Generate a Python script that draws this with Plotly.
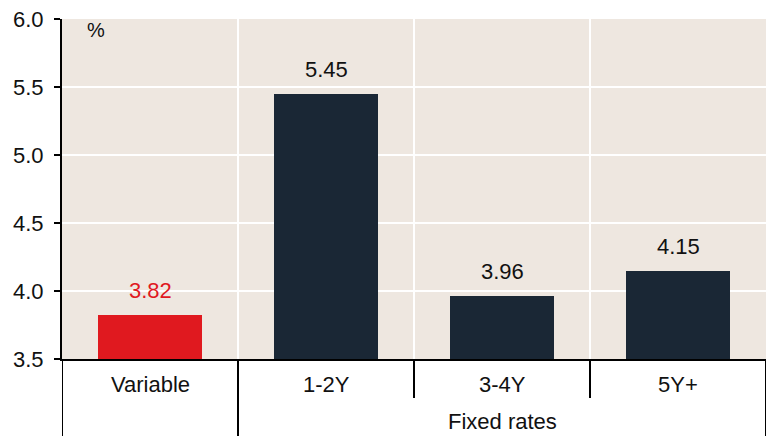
import plotly.graph_objects as go

categories = ["Variable", "1-2Y", "3-4Y", "5Y+"]
values = [3.82, 5.45, 3.96, 4.15]
bar_colors = ["#E0191F", "#1A2735", "#1A2735", "#1A2735"]
label_colors = ["#E0191F", "#111111", "#111111", "#111111"]
group_label = "Fixed rates"
y_ticks = [3.5, 4.0, 4.5, 5.0, 5.5, 6.0]
unit_label = "%"

FONT = "Liberation Sans, Arial, sans-serif"
FS = 22
PLOT_H = 436 - 19 - 77

xpos = [i + 0.5 for i in range(len(categories))]

fig = go.Figure()
fig.add_trace(go.Bar(
    x=xpos, y=values, width=0.59,
    marker=dict(color=bar_colors, line=dict(width=0)),
    hoverinfo="skip", showlegend=False,
))

annotations = []
for xp, v, c in zip(xpos, values, label_colors):
    annotations.append(dict(x=xp, y=v, xref="x", yref="y", text=f"{v:.2f}",
                            showarrow=False, yanchor="bottom", yshift=10,
                            font=dict(family=FONT, size=FS, color=c)))
for xp, cat in zip(xpos, categories):
    annotations.append(dict(x=xp, y=-(384 - 359) / PLOT_H, xref="x", yref="paper",
                            text=cat, showarrow=False, yanchor="middle",
                            font=dict(family=FONT, size=FS, color="#111111")))
annotations.append(dict(x=(xpos[1] + xpos[-1]) / 2, y=-(421 - 359) / PLOT_H,
                        xref="x", yref="paper", text=group_label, showarrow=False,
                        yanchor="middle", font=dict(family=FONT, size=FS, color="#111111")))
annotations.append(dict(x=0.195, y=0.968, xref="x", yref="paper", text=unit_label,
                        showarrow=False, yanchor="middle",
                        font=dict(family=FONT, size=FS - 2, color="#111111")))

shapes = []
full = -77 / PLOT_H - 0.05
short = -39 / PLOT_H
for xb, yb in [(0, full), (1, full), (2, short), (3, short), (4, full)]:
    shapes.append(dict(type="line", xref="x", yref="paper", x0=xb, x1=xb,
                       y0=0, y1=yb, line=dict(color="black", width=2)))

fig.update_layout(
    width=767, height=436,
    margin=dict(l=62, r=1, t=19, b=77),
    paper_bgcolor="white", plot_bgcolor="#EEE7E0",
    font=dict(family=FONT, size=FS, color="#111111"),
    bargap=0,
    annotations=annotations, shapes=shapes,
    xaxis=dict(range=[0, 4], tickvals=[1, 2, 3], showticklabels=False,
               showgrid=True, gridcolor="white", gridwidth=2, ticks="",
               showline=True, linecolor="black", linewidth=2, zeroline=False,
               fixedrange=True),
    yaxis=dict(range=[3.5, 6.0], tickvals=y_ticks, tickformat=".1f",
               showgrid=True, gridcolor="white", gridwidth=2,
               ticks="outside", ticklen=6, tickwidth=2, tickcolor="black",
               showline=True, linecolor="black", linewidth=2, zeroline=False,
               ticklabelstandoff=6,
               tickfont=dict(family=FONT, size=FS, color="#111111"),
               fixedrange=True),
)

fig.write_html("out.html")
